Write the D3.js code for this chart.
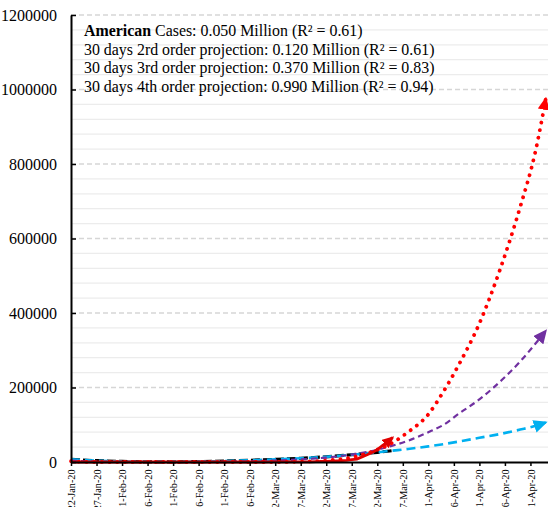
<!DOCTYPE html>
<html><head><meta charset="utf-8">
<script src="https://cdn.jsdelivr.net/npm/d3@7"></script>
<style>
html,body{margin:0;padding:0;background:#fff;}
svg{display:block;}
text{font-family:"Liberation Serif","Times New Roman",serif;}
</style></head>
<body>
<script>
// ---- data ----
const startDate = "22-Jan-20";
// actual confirmed cases, one value per day from startDate
const cases = [1,1,2,2,5,5,5,5,5,7,8,8,11,11,11,11,11,11,11,11,12,12,13,13,13,13,13,13,13,13,15,15,15,51,51,57,58,60,68,74,98,118,149,217,262,402,518,583,959,1281,1663,2179,2727,3499,4632,6421,7783,13747,19273,25600,33276,43843,53740,65778];
// day offsets (from startDate) at which the fitted / projected curves were read
const fitDays = [0,5,10,15,20,25,30,35,40,45,50,55,60,63,66,70,73,76,80,84,88,91,93];
const trendValues = [7000,3500,1500,500,500,1000,2500,4500,7000,10000,14000,19500,26000,30500];
const order2Values = [7000,3500,1500,500,500,1000,2500,4500,7000,10000,14000,19500,26000,30500,35000,42000,48000,55000,65000,75000,87000,97000,106000];
const order3Values = [4000,1000,0,0,0,0,1000,2000,4000,7000,12000,20000,33000,44000,57000,80000,100000,130000,168000,215000,270000,318000,352000];
const order4Values = [2000,0,0,0,0,0,0,0,0,1000,4000,12000,33000,52000,80000,128000,190000,262000,372000,515000,685000,835000,975000];
const xTickLabels = ["22-Jan-20","27-Jan-20","1-Feb-20","6-Feb-20","11-Feb-20","16-Feb-20","21-Feb-20","26-Feb-20","2-Mar-20","7-Mar-20","12-Mar-20","17-Mar-20","22-Mar-20","27-Mar-20","1-Apr-20","6-Apr-20","11-Apr-20","16-Apr-20","21-Apr-20"];
const yTicks = [0,200000,400000,600000,800000,1000000,1200000];
const yMinorTicks = [40000,80000,120000,160000,240000,280000,320000,360000,440000,480000,520000,560000,640000,680000,720000,760000,840000,880000,920000,960000,1040000,1080000,1120000,1160000];
const legendLines = [
  {bold:"American", rest:" Cases: 0.050 Million (R² = 0.61)"},
  {bold:"", rest:"30 days 2rd order projection: 0.120 Million (R² = 0.61)"},
  {bold:"", rest:"30 days 3rd order projection: 0.370 Million (R² = 0.83)"},
  {bold:"", rest:"30 days 4th order projection: 0.990 Million (R² = 0.94)"}
];

// ---- chart ----
const W = 548, H = 507;
const parse = d3.utcParse("%d-%b-%y");
const t0 = parse(startDate);
const dayDate = d => new Date(t0.getTime() + d*86400000);

const x = d3.scaleUtc().domain([t0, dayDate(93.44)]).range([71, 548]);
const y = d3.scaleLinear().domain([0, 1200000]).range([462, 15]);

const svg = d3.select("body").append("svg").attr("width", W).attr("height", H);

const defs = svg.append("defs");
function marker(id, color, len, wid) {
  defs.append("marker").attr("id", id)
    .attr("markerUnits", "userSpaceOnUse")
    .attr("viewBox", `0 0 ${len} ${wid}`)
    .attr("markerWidth", len).attr("markerHeight", wid)
    .attr("refX", len - 2).attr("refY", wid/2)
    .attr("orient", "auto")
    .append("path").attr("d", `M0,0 L${len},${wid/2} L0,${wid} Z`).attr("fill", color);
}
marker("arRed", "#ff0000", 13, 12);
marker("arRed2", "#e00000", 12, 11);
marker("arPurple", "#7030a0", 14, 13);
marker("arCyan", "#00b0f0", 14, 13);

// gridlines
svg.append("g").selectAll("line").data(yMinorTicks).join("line")
  .attr("x1", 71).attr("x2", 548).attr("y1", d => y(d)).attr("y2", d => y(d))
  .attr("stroke", "#ececec").attr("stroke-width", 1.3);
svg.append("g").selectAll("line").data(yTicks.filter(d => d > 0)).join("line")
  .attr("x1", 71).attr("x2", 548).attr("y1", d => y(d)).attr("y2", d => y(d))
  .attr("stroke", "#d6d6d6").attr("stroke-width", 1.3).attr("stroke-dasharray", "5,3");

// legend text
const lg = svg.append("g");
legendLines.forEach((l, i) => {
  const t = lg.append("text").attr("x", 84).attr("y", 36 + i*18.7)
    .attr("font-size", 15.9).attr("fill", "#000");
  if (l.bold) t.append("tspan").attr("font-weight", "bold").text(l.bold);
  t.append("tspan").text(l.rest);
});

// lines
const line = d3.line().x(d => x(dayDate(d[0]))).y(d => y(d[1])).curve(d3.curveMonotoneX);
const pairs = vals => vals.map((v, i) => [fitDays[i], v]);

svg.append("path").datum(pairs(trendValues)).attr("d", line)
  .attr("fill", "none").attr("stroke", "#000").attr("stroke-width", 3.2).attr("stroke-dasharray", "9,3");
svg.append("path").datum(pairs(order2Values)).attr("d", line)
  .attr("fill", "none").attr("stroke", "#00b0f0").attr("stroke-width", 2.6).attr("stroke-dasharray", "9,5")
  .attr("marker-end", "url(#arCyan)");
svg.append("path").datum(pairs(order3Values)).attr("d", line)
  .attr("fill", "none").attr("stroke", "#7030a0").attr("stroke-width", 2.2).attr("stroke-dasharray", "6,4")
  .attr("marker-end", "url(#arPurple)");
svg.append("path").datum(pairs(order4Values)).attr("d", line)
  .attr("fill", "none").attr("stroke", "#ff0000").attr("stroke-width", 3.8).attr("stroke-linecap", "round")
  .attr("stroke-dasharray", "0.1,7.6")
  .attr("marker-end", "url(#arRed)");
const lineLin = d3.line().x(d => x(dayDate(d[0]))).y(d => y(d[1]));
svg.append("path").datum(cases.map((v, i) => [i, v])).attr("d", lineLin)
  .attr("fill", "none").attr("stroke", "#e00000").attr("stroke-width", 2.8)
  .attr("marker-end", "url(#arRed2)");

// axes
const yAxis = d3.axisLeft(y).tickValues(yTicks).tickFormat(d3.format("d"))
  .tickSizeInner(-5).tickSizeOuter(0).tickPadding(14);
const gy = svg.append("g").attr("transform", "translate(71,0)").call(yAxis);
gy.select(".domain").attr("stroke", "#000").attr("stroke-width", 2);
gy.selectAll(".tick line").attr("stroke", "#000").attr("stroke-width", 1.5);
gy.selectAll("text").attr("font-size", 16).attr("font-family", "Liberation Serif").attr("fill", "#000");

const xAxis = d3.axisBottom(x).tickValues(xTickLabels.map(parse))
  .tickFormat(d3.utcFormat("%-d-%b-%y")).tickSizeInner(4).tickSizeOuter(0);
const gx = svg.append("g").attr("transform", "translate(0,462)").call(xAxis);
gx.select(".domain").attr("stroke", "#000").attr("stroke-width", 2);
gx.selectAll(".tick line").attr("stroke", "#000").attr("stroke-width", 1.5);
gx.selectAll("text").attr("font-size", 10.2).attr("font-family", "Liberation Serif").attr("fill", "#000")
  .attr("transform", "rotate(-90)").attr("text-anchor", "end")
  .attr("x", -7.5).attr("y", 0).attr("dy", "0.35em");
</script>
</body></html>
